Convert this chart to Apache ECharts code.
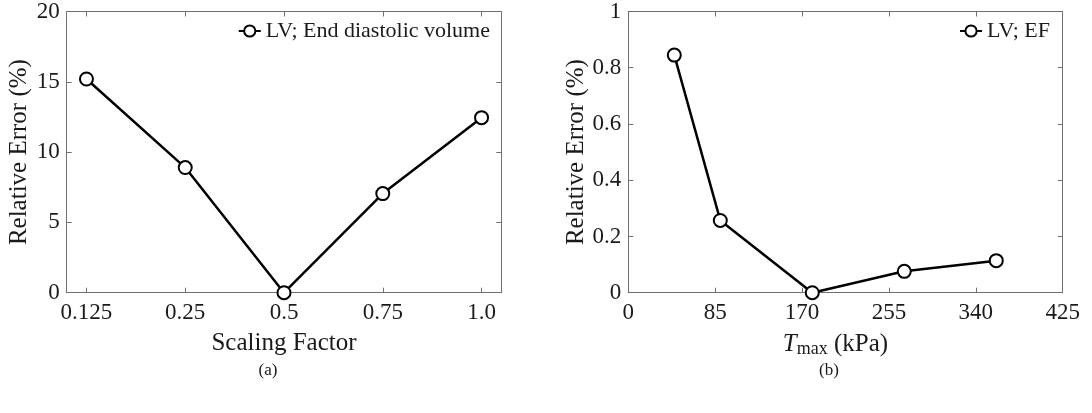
<!DOCTYPE html>
<html>
<head>
<meta charset="utf-8">
<script src="https://cdn.jsdelivr.net/npm/echarts@6/dist/echarts.min.js"></script>
<style>
    html, body { margin: 0; padding: 0; background: #fff; }
    #chart { width: 1092px; height: 413px; }
</style>
</head>
<body>
<div id="chart"></div>
<script>
    // (a) scaling factor vs relative error of end diastolic volume
    var scaleFactors = ['0.125', '0.25', '0.5', '0.75', '1.0'];
    var edvError = [15.2, 8.9, 0, 7.05, 12.45];

    // (b) Tmax vs relative error of EF
    var tmaxValues = [45, 90, 180, 270, 360];
    var efError = [0.845, 0.257, 0, 0.076, 0.114];

    var serif = "'Liberation Serif', 'Times New Roman', serif";
    var axisGray = '#707070';
    var tickPos = [1, 2, 3, 4, 5];

    function frameAxis(extra) {
        var base = {
            axisLine: { show: true, onZero: false, lineStyle: { color: axisGray, width: 1 } },
            axisTick: { show: true, inside: true, length: 5, lineStyle: { color: axisGray } },
            axisLabel: { show: true, color: '#1a1a1a', fontFamily: serif, fontSize: 23 },
            splitLine: { show: false }
        };
        return Object.assign(base, extra);
    }

    var chart = echarts.init(document.getElementById('chart'));
    var option = {
        animation: false,
        backgroundColor: '#fff',
        grid: [
            { left: 66.7, top: 9.3, width: 434.6, height: 283.4 },
            { left: 628.3, top: 9.3, width: 434.4, height: 283.4 }
        ],
        legend: [
            {
                data: ['LV; End diastolic volume'],
                right: 602, top: 20, padding: 0,
                itemWidth: 22, itemHeight: 14, itemGap: 4,
                textStyle: { fontFamily: serif, fontSize: 22, color: '#1a1a1a' }
            },
            {
                data: ['LV; EF'],
                right: 42, top: 20, padding: 0,
                itemWidth: 22, itemHeight: 14, itemGap: 4,
                textStyle: { fontFamily: serif, fontSize: 22, color: '#1a1a1a' }
            }
        ],
        xAxis: [
            frameAxis({
                type: 'value', gridIndex: 0, min: 0.8, max: 5.2,
                axisTick: { show: true, inside: true, length: 5, customValues: tickPos, lineStyle: { color: axisGray } },
                axisLabel: {
                    show: true, customValues: tickPos, margin: 9,
                    color: '#1a1a1a', fontFamily: serif, fontSize: 23,
                    formatter: function (v) { return scaleFactors[Math.round(v) - 1]; }
                },
                name: 'Scaling Factor', nameLocation: 'middle', nameGap: 38,
                nameTextStyle: { fontFamily: serif, fontSize: 25, color: '#1a1a1a' }
            }),
            frameAxis({
                type: 'value', gridIndex: 0, min: 0.8, max: 5.2, position: 'top',
                axisTick: { show: true, inside: true, length: 5, customValues: tickPos, lineStyle: { color: axisGray } },
                axisLabel: { show: false }
            }),
            frameAxis({
                type: 'value', gridIndex: 1, min: 0, max: 425, interval: 85,
                axisLabel: { show: true, margin: 9, color: '#1a1a1a', fontFamily: serif, fontSize: 23 },
                name: '{t|T}{s|max} (kPa)', nameLocation: 'middle', nameGap: 38,
                nameTextStyle: {
                    fontFamily: serif, fontSize: 25, color: '#1a1a1a', padding: [0, 20, 0, 0],
                    rich: {
                        t: { fontFamily: serif, fontSize: 25, fontStyle: 'italic', color: '#1a1a1a' },
                        s: { fontFamily: serif, fontSize: 18, color: '#1a1a1a', padding: [10, 0, 0, 0] }
                    }
                }
            }),
            frameAxis({
                type: 'value', gridIndex: 1, min: 0, max: 425, interval: 85, position: 'top',
                axisLabel: { show: false }
            })
        ],
        yAxis: [
            frameAxis({
                type: 'value', gridIndex: 0, min: 0, max: 20, interval: 5,
                axisLabel: { show: true, margin: 7, color: '#1a1a1a', fontFamily: serif, fontSize: 23 },
                name: 'Relative Error (%)', nameLocation: 'middle', nameGap: 35,
                nameTextStyle: { fontFamily: serif, fontSize: 25, color: '#1a1a1a' }
            }),
            frameAxis({
                type: 'value', gridIndex: 0, min: 0, max: 20, interval: 5, position: 'right',
                axisLabel: { show: false }
            }),
            frameAxis({
                type: 'value', gridIndex: 1, min: 0, max: 1, interval: 0.2,
                axisLabel: { show: true, margin: 7, color: '#1a1a1a', fontFamily: serif, fontSize: 23 },
                name: 'Relative Error (%)', nameLocation: 'middle', nameGap: 37,
                nameTextStyle: { fontFamily: serif, fontSize: 25, color: '#1a1a1a' }
            }),
            frameAxis({
                type: 'value', gridIndex: 1, min: 0, max: 1, interval: 0.2, position: 'right',
                axisLabel: { show: false }
            })
        ],
        series: [
            {
                name: 'LV; End diastolic volume',
                type: 'line', xAxisIndex: 0, yAxisIndex: 0,
                data: scaleFactors.map(function (c, i) { return [i + 1, edvError[i]]; }),
                symbol: 'emptyCircle', symbolSize: 13,
                lineStyle: { color: '#000', width: 2.5 },
                itemStyle: { color: '#000', borderColor: '#000', borderWidth: 2.8 }
            },
            {
                name: 'LV; EF',
                type: 'line', xAxisIndex: 2, yAxisIndex: 2,
                data: tmaxValues.map(function (t, i) { return [t, efError[i]]; }),
                symbol: 'emptyCircle', symbolSize: 13,
                lineStyle: { color: '#000', width: 2.5 },
                itemStyle: { color: '#000', borderColor: '#000', borderWidth: 2.8 }
            }
        ],
        graphic: [
            {
                type: 'text', x: 268, y: 371,
                style: { text: '(a)', fontFamily: serif, fontSize: 17, fill: '#1a1a1a', align: 'center', verticalAlign: 'middle' }
            },
            {
                type: 'text', x: 829, y: 371,
                style: { text: '(b)', fontFamily: serif, fontSize: 17, fill: '#1a1a1a', align: 'center', verticalAlign: 'middle' }
            }
        ]
    };
    chart.setOption(option);
</script>
</body>
</html>
